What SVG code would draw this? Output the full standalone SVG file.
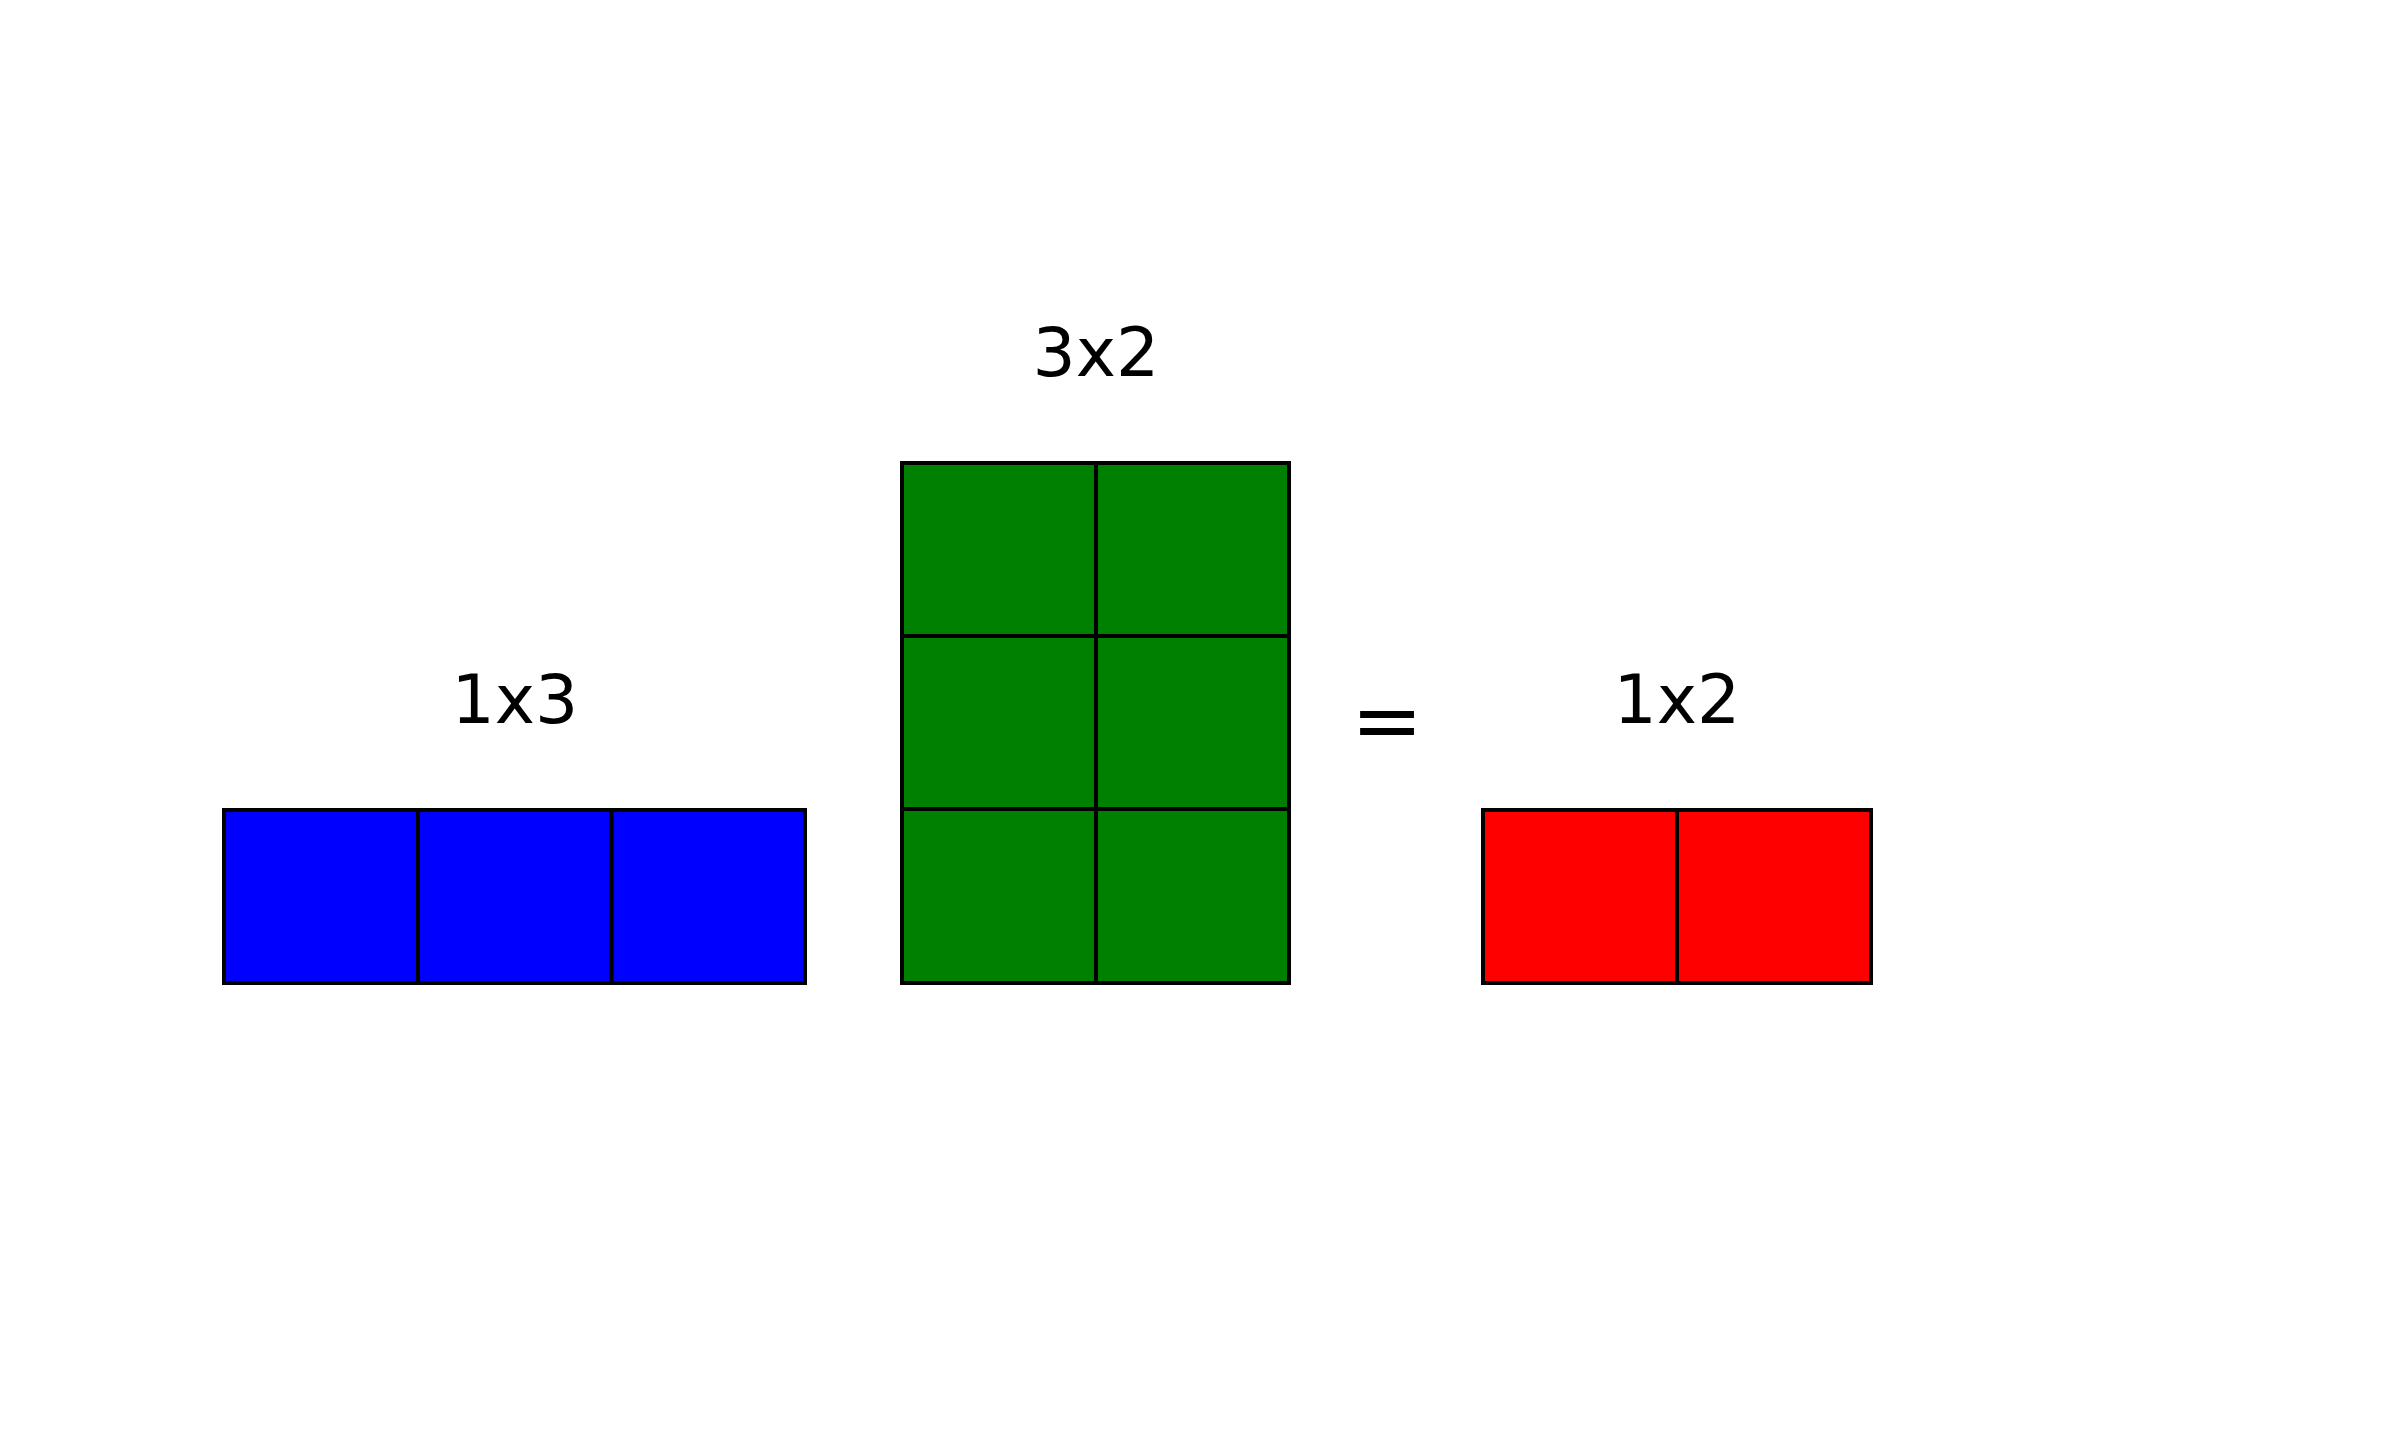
<svg xmlns="http://www.w3.org/2000/svg" width="2385" height="1446" viewBox="0 0 2385 1446">
<style>
.cell{stroke:#000;stroke-width:4}
.b{fill:#0000ff}.g{fill:#008000}.r{fill:#ff0000}
.lbl{font-family:"DejaVu Sans",sans-serif;font-size:68px;text-anchor:middle;fill:#000}
</style>
<rect width="2385" height="1446" fill="#fff"/>
<g id="blue">
<rect class="cell b" x="224" y="810" width="194" height="173"/>
<rect class="cell b" x="418" y="810" width="193.5" height="173"/>
<rect class="cell b" x="611.5" y="810" width="193.5" height="173"/>
<text class="lbl" x="515" y="723">1x3</text>
</g>
<g id="green">
<rect class="cell g" x="902" y="463" width="194" height="173"/>
<rect class="cell g" x="1096" y="463" width="193" height="173"/>
<rect class="cell g" x="902" y="636" width="194" height="173"/>
<rect class="cell g" x="1096" y="636" width="193" height="173"/>
<rect class="cell g" x="902" y="809" width="194" height="174"/>
<rect class="cell g" x="1096" y="809" width="193" height="174"/>
<text class="lbl" x="1096" y="376">3x2</text>
</g>
<g id="equals">
<text class="lbl" x="1387" y="750" style="font-size:86px">=</text>
</g>
<g id="red">
<rect class="cell r" x="1483" y="810" width="194" height="173"/>
<rect class="cell r" x="1677" y="810" width="194" height="173"/>
<text class="lbl" x="1677" y="723">1x2</text>
</g>
<g id="connectors"></g>
</svg>
